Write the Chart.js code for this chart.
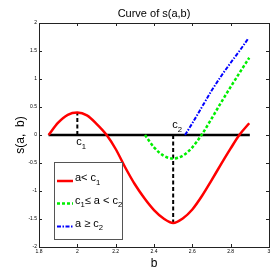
<!doctype html>
<html>
<head>
<script src="https://cdn.jsdelivr.net/npm/chart.js@4/dist/chart.umd.min.js"></script>
<style>
html, body { margin: 0; padding: 0; background: #fff; }
#holder { width: 273px; height: 273px; }
</style>
</head>
<body>
<div id="holder"><canvas id="chart" width="273" height="273"></canvas></div>
<script>
// tick labels
var xTicks = [1.8, 2, 2.2, 2.4, 2.6, 2.8, 3];
var yTicks = [-2, -1.5, -1, -0.5, 0, 0.5, 1, 1.5, 2];

// a < c1
var bRed = [1.85, 1.9, 1.95, 2.0, 2.05, 2.1, 2.153, 2.2, 2.25, 2.3, 2.35, 2.4, 2.45, 2.5, 2.55, 2.6, 2.65, 2.7, 2.75, 2.8, 2.845, 2.897];
var sRed = [0, 0.22, 0.36, 0.4, 0.35, 0.2, 0, -0.25, -0.58, -0.88, -1.13, -1.34, -1.49, -1.57, -1.49, -1.33, -1.09, -0.81, -0.52, -0.24, 0, 0.21];

// c1 <= a < c2
var bGreen = [2.353, 2.4, 2.45, 2.5, 2.55, 2.6, 2.648, 2.7, 2.75, 2.8, 2.85, 2.897];
var sGreen = [0, -0.22, -0.37, -0.42, -0.37, -0.22, 0, 0.29, 0.58, 0.86, 1.13, 1.38];

// a >= c2
var bBlue = [2.562, 2.6, 2.65, 2.7, 2.75, 2.8, 2.85, 2.893];
var sBlue = [0, 0.21, 0.5, 0.79, 1.05, 1.29, 1.52, 1.73];

// zero line and markers
var zeroB = [1.85, 2.9];
var c1 = 2.0, c1Peak = 0.4;
var c2 = 2.5, c2Min = -1.57;

function pts(xs, ys) {
	return xs.map(function(x, i) { return {x: x, y: ys[i]}; });
}

var FONT = '"Liberation Sans", Arial, sans-serif';

function subText(ctx, parts, x, y, size) {
	// parts: [text, isSub]
	parts.forEach(function(p) {
		if (p[1]) {
			ctx.font = (size * 0.7) + 'px ' + FONT;
			ctx.fillText(p[0], x, y + size * 0.35);
		} else {
			ctx.font = size + 'px ' + FONT;
			ctx.fillText(p[0], x, y);
		}
		x += ctx.measureText(p[0]).width;
	});
}

var decorPlugin = {
	id: 'decor',
	afterDraw: function(chart) {
		var ctx = chart.ctx, a = chart.chartArea;
		var xs = chart.scales.x, ys = chart.scales.y;
		ctx.save();
		// box
		ctx.strokeStyle = '#222';
		ctx.lineWidth = 1;
		ctx.strokeRect(Math.round(a.left) + 0.5, Math.round(a.top) + 0.5, Math.round(a.right - a.left), Math.round(a.bottom - a.top));
		// inner ticks on all four sides
		ctx.beginPath();
		xTicks.forEach(function(v) {
			var px = Math.round(xs.getPixelForValue(v)) + 0.5;
			ctx.moveTo(px, a.bottom); ctx.lineTo(px, a.bottom - 3);
			ctx.moveTo(px, a.top); ctx.lineTo(px, a.top + 3);
		});
		yTicks.forEach(function(v) {
			var py = Math.round(ys.getPixelForValue(v)) + 0.5;
			ctx.moveTo(a.left, py); ctx.lineTo(a.left + 3, py);
			ctx.moveTo(a.right, py); ctx.lineTo(a.right - 3, py);
		});
		ctx.stroke();

		// title
		ctx.fillStyle = '#000';
		ctx.font = '11px ' + FONT;
		ctx.textAlign = 'center';
		ctx.textBaseline = 'alphabetic';
		ctx.fillText('Curve of s(a,b)', (a.left + a.right) / 2, 17);
		ctx.textAlign = 'left';

		// c1 / c2 labels
		subText(ctx, [['c', false], ['1', true]], xs.getPixelForValue(c1) - 1, ys.getPixelForValue(0) + 10, 11);
		subText(ctx, [['c', false], ['2', true]], xs.getPixelForValue(c2) - 1, ys.getPixelForValue(0) - 7, 11);

		// legend
		var lx = 54.5, ly = 162.5, lw = 68, lh = 77;
		ctx.fillStyle = '#fff';
		ctx.fillRect(lx, ly, lw, lh);
		ctx.strokeStyle = '#555';
		ctx.lineWidth = 1;
		ctx.strokeRect(lx, ly, lw, lh);
		var rows = [
			{y: 181, color: '#ff0000', dash: [], w: 2.5, parts: [['a< c', false], ['1', true]]},
			{y: 203.5, color: '#00ee00', dash: [3, 2], w: 2.5, parts: [['c', false], ['1', true], ['\u2264 a < c', false], ['2', true]]},
			{y: 226.5, color: '#0000ff', dash: [4, 1.5, 1.5, 1.5], w: 2, parts: [['a \u2265 c', false], ['2', true]]}
		];
		rows.forEach(function(r) {
			ctx.strokeStyle = r.color;
			ctx.lineWidth = r.w;
			ctx.setLineDash(r.dash);
			ctx.beginPath();
			ctx.moveTo(57, r.y); ctx.lineTo(73, r.y);
			ctx.stroke();
			ctx.setLineDash([]);
			ctx.fillStyle = '#000';
			subText(ctx, r.parts, 75, r.y, 11);
		});
		ctx.restore();
	}
};

var config = {
	type: 'line',
	data: {
		datasets: [
			{
				label: 'zero',
				data: pts(zeroB, [0, 0]),
				borderColor: '#000',
				borderWidth: 2.5,
				pointRadius: 0,
				tension: 0,
				order: 5
			},
			{
				label: 'c1 mark',
				data: pts([c1, c1], [0, c1Peak]),
				borderColor: '#000',
				borderWidth: 2,
				borderDash: [4, 2.5],
				pointRadius: 0,
				tension: 0,
				order: 4
			},
			{
				label: 'c2 mark',
				data: pts([c2, c2], [0, c2Min]),
				borderColor: '#000',
				borderWidth: 2,
				borderDash: [4, 2.5],
				pointRadius: 0,
				tension: 0,
				order: 4
			},
			{
				label: 'a< c1',
				data: pts(bRed, sRed),
				borderColor: '#ff0000',
				borderWidth: 2.5,
				pointRadius: 0,
				cubicInterpolationMode: 'monotone',
				order: 3
			},
			{
				label: 'c1 <= a < c2',
				data: pts(bGreen, sGreen),
				borderColor: '#00ee00',
				borderWidth: 2.5,
				borderDash: [3, 2],
				pointRadius: 0,
				cubicInterpolationMode: 'monotone',
				order: 2
			},
			{
				label: 'a >= c2',
				data: pts(bBlue, sBlue),
				borderColor: '#0000ff',
				borderWidth: 2,
				borderDash: [4, 1.5, 1.5, 1.5],
				pointRadius: 0,
				cubicInterpolationMode: 'monotone',
				order: 1
			}
		]
	},
	options: {
		responsive: false,
		animation: false,
		layout: { padding: { top: 23, left: 0, right: 4, bottom: 0 } },
		plugins: {
			legend: { display: false },
			tooltip: { enabled: false },
			title: { display: false }
		},
		scales: {
			x: {
				type: 'linear',
				min: 1.8,
				max: 3,
				afterBuildTicks: function(s) { s.ticks = xTicks.map(function(v) { return {value: v}; }); },
				afterFit: function(s) { s.height = 26; },
				grid: { display: false, drawTicks: false },
				border: { display: false },
				ticks: {
					padding: 2,
					color: '#000',
					maxRotation: 0,
					font: { family: FONT, size: 5 },
					callback: function(v) { return String(v); }
				},
				title: {
					display: true,
					text: 'b',
					color: '#000',
					font: { family: FONT, size: 12 },
					padding: { top: 0, bottom: 2 }
				}
			},
			y: {
				min: -2,
				max: 2,
				afterBuildTicks: function(s) { s.ticks = yTicks.map(function(v) { return {value: v}; }); },
				afterFit: function(s) { s.width = 39; },
				grid: { display: false, drawTicks: false },
				border: { display: false },
				ticks: {
					padding: 2,
					color: '#000',
					font: { family: FONT, size: 5 },
					callback: function(v) { return String(v); }
				},
				title: {
					display: true,
					text: 's(a,  b)',
					color: '#000',
					font: { family: FONT, size: 12 },
					padding: { top: 13, bottom: 0 }
				}
			}
		}
	},
	plugins: [decorPlugin]
};

window.onload = function() {
	var ctx = document.getElementById('chart').getContext('2d');
	window.myChart = new Chart(ctx, config);
};
</script>
</body>
</html>
